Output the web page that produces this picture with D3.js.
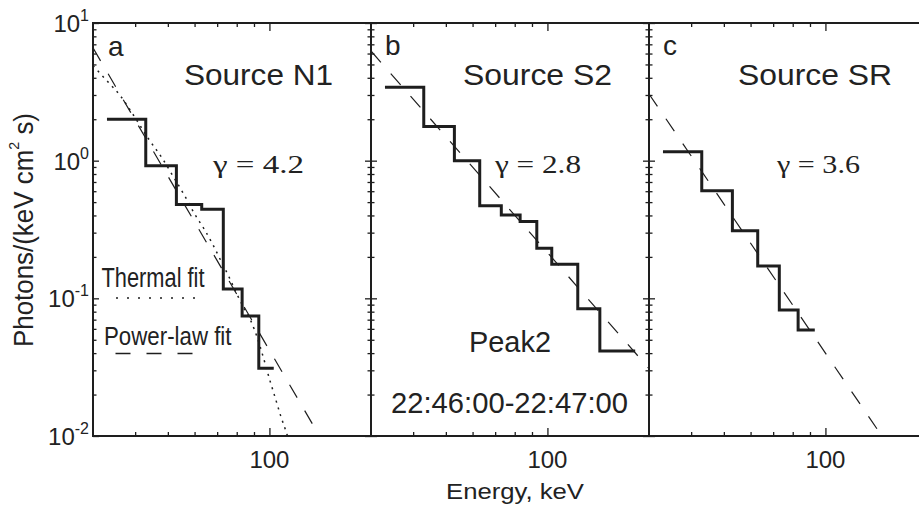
<!DOCTYPE html>
<html>
<head>
<meta charset="utf-8">
<script src="https://cdn.jsdelivr.net/npm/d3@7"></script>
<style>
  html, body { margin: 0; padding: 0; background: #fff; }
  svg { display: block; }
  text { fill: #222; font-family: "Liberation Sans", Arial, Helvetica, sans-serif; }
  .serif { font-family: "Liberation Serif", "Times New Roman", serif; }
</style>
</head>
<body>
<svg id="chart" width="919" height="507"></svg>
<script>
// ---- Spectra: bin edges (keV) and photon flux per bin ----
const edgesN1 = [33, 43, 53, 63, 73, 83, 93, 103];
const fluxN1  = [2.0, 0.92, 0.48, 0.443, 0.117, 0.0745, 0.031];

const edgesS2 = [33, 43, 53, 63, 73, 83, 93, 103, 123, 143, 182];
const fluxS2  = [3.41, 1.77, 1.0, 0.471, 0.403, 0.361, 0.231, 0.177, 0.084, 0.0415];

const edgesSR = [33, 43, 53, 63, 73, 83, 93];
const fluxSR  = [1.16, 0.605, 0.31, 0.172, 0.0824, 0.0589];

// ---- Thermal fit for source N1 ----
const thermalEnergy = [30, 33, 36, 40, 44, 48, 52, 56, 60, 64, 68, 72, 76, 80, 84, 88, 92, 96, 100, 104, 108, 112, 115];
const thermalFlux   = [4.9, 3.8, 3.0, 2.05, 1.42, 1.05, 0.76, 0.56, 0.41, 0.32, 0.245, 0.185, 0.142, 0.108, 0.085, 0.069, 0.052, 0.037, 0.026, 0.019, 0.014, 0.0108, 0.0088];

// ---- Power-law fits: spectral index and flux at 100 keV ----
const gammas   = [4.2, 2.8, 3.6];
const flux100  = [0.042, 0.215, 0.04];

// ---- Panel annotations and ticks ----
const panelLetters = ["a", "b", "c"];
const sourceNames  = ["Source N1", "Source S2", "Source SR"];
const yDecades     = [1, 0, -1, -2];
const xMajorTicks  = [100];
const xMinorTicks  = [40, 50, 60, 70, 80, 90];

const spectra = [
  { edges: edgesN1, flux: fluxN1 },
  { edges: edgesS2, flux: fluxS2 },
  { edges: edgesSR, flux: fluxSR }
];

const svg = d3.select("#chart");
const ink = "#1e1e1e";

const plotTop = 23, plotBottom = 436;
const panelW = 278;
const panelLeft = [93, 371, 649];
const eDomain = [30, 200];

const y = d3.scaleLog().domain([0.01, 10]).range([plotBottom, plotTop]);

const yMinor = [];
[-2, -1, 0].forEach(k => { for (let m = 2; m <= 9; m++) yMinor.push(m * Math.pow(10, k)); });
const yMajor = yDecades.map(k => Math.pow(10, k));

const defs = svg.append("defs");

panelLetters.forEach((letter, i) => {
  const x0 = panelLeft[i];
  const x = d3.scaleLog().domain(eDomain).range([x0, x0 + panelW]);
  const g = svg.append("g");

  defs.append("clipPath").attr("id", "clip" + i)
    .append("rect").attr("x", x0).attr("y", plotTop)
    .attr("width", panelW).attr("height", plotBottom - plotTop);

  // axis ticks (inward)
  const tickStyle = sel => {
    sel.select(".domain").remove();
    sel.selectAll("line").attr("stroke", ink).attr("stroke-width", 1.3);
    sel.selectAll("text").remove();
  };
  g.append("g").attr("transform", `translate(0,${plotBottom})`)
    .call(d3.axisBottom(x).tickValues(xMinorTicks).tickSize(-4)).call(tickStyle);
  g.append("g").attr("transform", `translate(0,${plotBottom})`)
    .call(d3.axisBottom(x).tickValues(xMajorTicks).tickSize(-8)).call(tickStyle);
  g.append("g").attr("transform", `translate(0,${plotTop})`)
    .call(d3.axisTop(x).tickValues(xMinorTicks).tickSize(-4)).call(tickStyle);
  g.append("g").attr("transform", `translate(0,${plotTop})`)
    .call(d3.axisTop(x).tickValues(xMajorTicks).tickSize(-8)).call(tickStyle);
  g.append("g").attr("transform", `translate(${x0},0)`)
    .call(d3.axisLeft(y).tickValues(yMinor).tickSize(-3.5)).call(tickStyle);
  g.append("g").attr("transform", `translate(${x0},0)`)
    .call(d3.axisLeft(y).tickValues(yMajor).tickSize(-6)).call(tickStyle);
  g.append("g").attr("transform", `translate(${x0 + panelW},0)`)
    .call(d3.axisRight(y).tickValues(yMinor).tickSize(-3.5)).call(tickStyle);
  g.append("g").attr("transform", `translate(${x0 + panelW},0)`)
    .call(d3.axisRight(y).tickValues(yMajor).tickSize(-6)).call(tickStyle);

  // frame
  g.append("rect").attr("x", x0).attr("y", plotTop)
    .attr("width", panelW).attr("height", plotBottom - plotTop)
    .attr("fill", "none").attr("stroke", ink).attr("stroke-width", 2);

  // x tick labels
  xMajorTicks.forEach(v => {
    g.append("text").attr("x", x(v)).attr("y", 468)
      .attr("text-anchor", "middle").attr("font-size", 24).text(v);
  });

  const plot = g.append("g").attr("clip-path", `url(#clip${i})`);

  // power-law fit (dashed)
  const pl = e => flux100[i] * Math.pow(e / 100, -gammas[i]);
  plot.append("path")
    .datum(eDomain.map(e => [e, pl(e)]))
    .attr("d", d3.line().x(d => x(d[0])).y(d => y(d[1])))
    .attr("fill", "none").attr("stroke", ink).attr("stroke-width", 1.2)
    .attr("stroke-dasharray", "15,15");

  // thermal fit (dotted), source N1 only
  if (i === 0) {
    plot.append("path")
      .datum(thermalEnergy.map((e, k) => [e, thermalFlux[k]]))
      .attr("d", d3.line().x(d => x(d[0])).y(d => y(d[1])).curve(d3.curveMonotoneX))
      .attr("fill", "none").attr("stroke", ink).attr("stroke-width", 1.5)
      .attr("stroke-dasharray", "2,5");
  }

  // histogram spectrum
  const sp = spectra[i];
  const pts = sp.flux.map((f, k) => [sp.edges[k], f]);
  pts.push([sp.edges[sp.edges.length - 1], sp.flux[sp.flux.length - 1]]);
  plot.append("path").datum(pts)
    .attr("d", d3.line().x(d => x(d[0])).y(d => y(d[1])).curve(d3.curveStepAfter))
    .attr("fill", "none").attr("stroke", ink).attr("stroke-width", 3)
    .attr("stroke-linejoin", "miter");
});

// y tick labels
yDecades.forEach(k => {
  const t = svg.append("text").attr("x", 89).attr("y", y(Math.pow(10, k)) + 9)
    .attr("text-anchor", "end").attr("font-size", 24);
  t.append("tspan").text("10");
  t.append("tspan").attr("font-size", 16).attr("dy", -11).text(String(k).replace("-", "-"));
});

// panel letters
[[108, 56], [385, 55], [663, 55]].forEach((p, i) => {
  svg.append("text").attr("x", p[0]).attr("y", p[1]).attr("font-size", 28).text(panelLetters[i]);
});

// source names
[[184, 149], [463, 149], [738, 154]].forEach((p, i) => {
  svg.append("text").attr("x", p[0]).attr("y", 85).attr("font-size", 30)
    .attr("textLength", p[1]).attr("lengthAdjust", "spacingAndGlyphs").text(sourceNames[i]);
});

// spectral index labels
[[213, 91], [495, 86], [777, 83]].forEach((p, i) => {
  svg.append("text").attr("class", "serif").attr("x", p[0]).attr("y", 173).attr("font-size", 26)
    .attr("textLength", p[1]).attr("lengthAdjust", "spacingAndGlyphs")
    .text("\u03B3 = " + gammas[i].toFixed(1));
});

// time interval
svg.append("text").attr("x", 469).attr("y", 352).attr("font-size", 30)
  .attr("textLength", 82).attr("lengthAdjust", "spacingAndGlyphs").text("Peak2");
svg.append("text").attr("x", 391).attr("y", 413).attr("font-size", 30)
  .attr("textLength", 237).attr("lengthAdjust", "spacingAndGlyphs").text("22:46:00-22:47:00");

// legend
svg.append("text").attr("x", 101.5).attr("y", 287).attr("font-size", 27)
  .attr("textLength", 103).attr("lengthAdjust", "spacingAndGlyphs").text("Thermal fit");
svg.append("line").attr("x1", 116).attr("x2", 195).attr("y1", 298).attr("y2", 298)
  .attr("stroke", ink).attr("stroke-width", 1.6).attr("stroke-dasharray", "2,9");
svg.append("text").attr("x", 104).attr("y", 345).attr("font-size", 26)
  .attr("textLength", 127.5).attr("lengthAdjust", "spacingAndGlyphs").text("Power-law fit");
svg.append("line").attr("x1", 115.5).attr("x2", 193).attr("y1", 353.5).attr("y2", 353.5)
  .attr("stroke", ink).attr("stroke-width", 1.6).attr("stroke-dasharray", "15,16");

// axis titles
svg.append("text").attr("x", 515).attr("y", 499).attr("text-anchor", "middle").attr("font-size", 22)
  .attr("textLength", 138).attr("lengthAdjust", "spacingAndGlyphs").text("Energy, keV");

const yt = svg.append("text").attr("transform", "translate(33,230) rotate(-90)")
  .attr("text-anchor", "middle").attr("font-size", 27)
  .attr("textLength", 234).attr("lengthAdjust", "spacingAndGlyphs");
yt.append("tspan").text("Photons/(keV cm");
yt.append("tspan").attr("font-size", 15).attr("dy", -14).text("2");
yt.append("tspan").attr("dy", 14).text(" s)");
</script>
</body>
</html>
